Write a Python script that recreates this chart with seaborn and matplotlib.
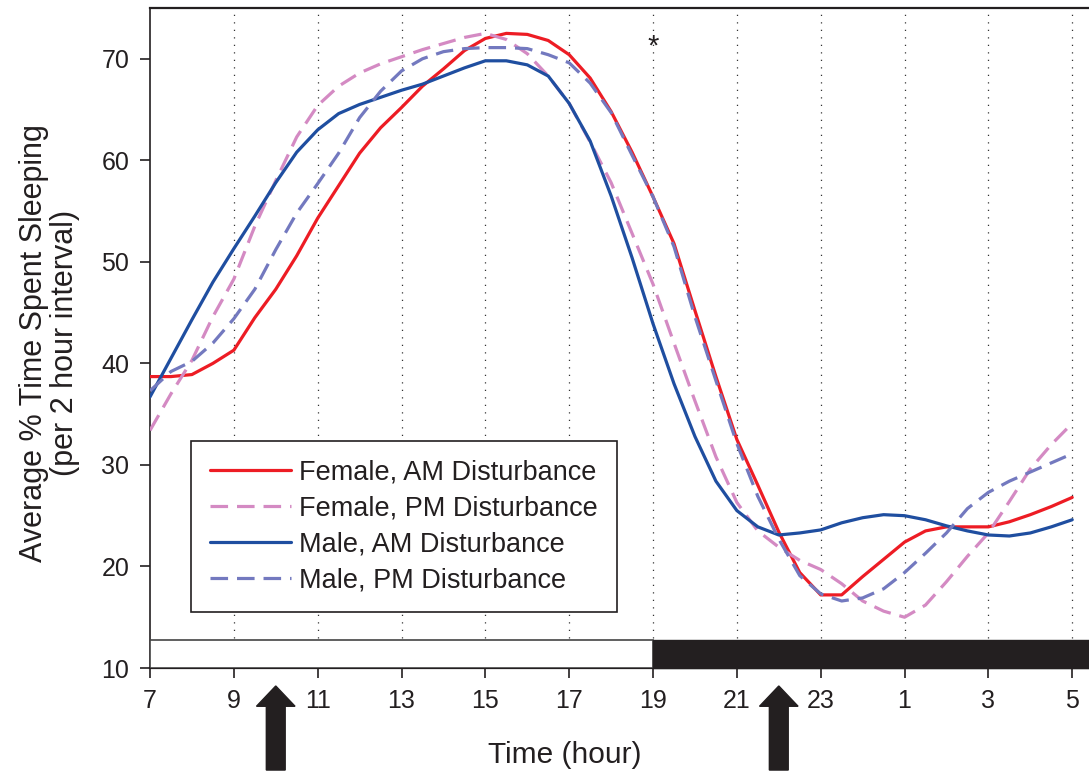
import numpy as np
import pandas as pd
import matplotlib
matplotlib.use("Agg")
import matplotlib.pyplot as plt
from matplotlib.patches import Rectangle, FancyArrow
import seaborn as sns

# ---- data (every half hour; 29 = 5 am next day) ----
hours = [7.0, 7.5, 8.0, 8.5, 9.0, 9.5, 10.0, 10.5, 11.0, 11.5, 12.0, 12.5, 13.0, 13.5,
         14.0, 14.5, 15.0, 15.5, 16.0, 16.5, 17.0, 17.5, 18.0, 18.5, 19.0, 19.5, 20.0,
         20.5, 21.0, 21.5, 22.0, 22.5, 23.0, 23.5, 24.0, 24.5, 25.0, 25.5, 26.0, 26.5,
         27.0, 27.5, 28.0, 28.5, 29.0]
female_am = [38.7, 38.7, 38.9, 40.0, 41.3, 44.5, 47.3, 50.6, 54.3, 57.5, 60.7, 63.2,
             65.2, 67.3, 69.0, 70.8, 72.0, 72.5, 72.4, 71.8, 70.4, 68.1, 64.8, 60.8,
             56.4, 51.8, 45.2, 38.7, 32.5, 28.0, 23.4, 19.4, 17.2, 17.2, 19.0, 20.7,
             22.4, 23.5, 23.9, 23.9, 23.9, 24.4, 25.1, 25.9, 26.8]
female_pm = [33.4, 37.0, 40.3, 44.6, 48.3, 53.5, 58.0, 62.3, 65.4, 67.3, 68.6, 69.5,
             70.2, 70.9, 71.5, 72.1, 72.5, 71.9, 70.5, 68.3, 65.6, 61.8, 57.8, 52.8,
             47.8, 42.0, 36.3, 30.8, 26.3, 23.5, 21.9, 20.6, 19.7, 18.3, 16.6, 15.6,
             15.0, 16.2, 18.5, 21.0, 23.3, 26.4, 29.6, 32.0, 34.1]
male_am = [36.7, 40.5, 44.3, 48.0, 51.3, 54.5, 57.8, 60.8, 63.0, 64.6, 65.5, 66.2,
           66.9, 67.5, 68.3, 69.1, 69.8, 69.8, 69.4, 68.3, 65.6, 61.9, 56.5, 50.4,
           43.9, 38.0, 32.8, 28.4, 25.5, 23.9, 23.1, 23.3, 23.6, 24.3, 24.8, 25.1,
           25.0, 24.6, 24.0, 23.5, 23.1, 23.0, 23.3, 23.9, 24.6]
male_pm = [37.3, 39.2, 40.2, 42.0, 44.4, 47.3, 51.2, 54.8, 57.7, 60.7, 64.2, 66.8,
           68.8, 70.0, 70.7, 71.0, 71.1, 71.1, 71.0, 70.4, 69.6, 67.6, 64.7, 60.5,
           56.4, 51.5, 44.6, 38.3, 32.1, 26.9, 22.7, 19.1, 17.3, 16.6, 16.9, 17.8,
           19.4, 21.3, 23.3, 25.7, 27.3, 28.4, 29.3, 30.2, 31.1]

series_names = ["Female, AM Disturbance", "Female, PM Disturbance",
                "Male, AM Disturbance", "Male, PM Disturbance"]
series_values = [female_am, female_pm, male_am, male_pm]

tick_positions = [7, 9, 11, 13, 15, 17, 19, 21, 23, 25, 27, 29]
tick_labels = ["7", "9", "11", "13", "15", "17", "19", "21", "23", "1", "3", "5"]
y_ticks = [10, 20, 30, 40, 50, 60, 70]

light_phase = (7, 19)
dark_phase = (19, 29.4)
disturbance_hours = [10, 22]
star_hour = 19

# ---- styling ----
colors = ["#ED1C24", "#D48AC3", "#1F4EA0", "#7379BF"]
styles = ["-", (0, (5.5, 2.8)), "-", (0, (5.5, 2.8))]

sns.set_theme(style="white")
plt.rcParams["font.family"] = ["Liberation Sans", "DejaVu Sans"]
text_color = "#231F20"
plt.rcParams["text.color"] = text_color
plt.rcParams["axes.labelcolor"] = text_color
plt.rcParams["xtick.color"] = text_color
plt.rcParams["ytick.color"] = text_color

df = pd.DataFrame({
    "hour": np.tile(hours, len(series_names)),
    "value": np.concatenate(series_values),
    "series": np.repeat(series_names, len(hours)),
})

fig = plt.figure(figsize=(10.89, 7.79), dpi=100)
ax = fig.add_axes([150 / 1089, 111 / 779, 939 / 1089, 660 / 779])

for name, col, ls in zip(series_names, colors, styles):
    sub = df[df["series"] == name]
    sns.lineplot(data=sub, x="hour", y="value", ax=ax, color=col, linestyle=ls,
                 linewidth=2.3, label=name, zorder=4, solid_joinstyle="round",
                 dash_joinstyle="round")

ax.set_xlim(7, 29.4)
ax.set_ylim(10, 75)

# vertical dotted grid
for t in tick_positions[1:]:
    ax.axvline(t, color="#333333", linestyle=(0, (1, 5)), linewidth=0.9, zorder=1)

# light / dark bar
bar_top = 12.75
ax.add_patch(Rectangle((light_phase[0], 10), light_phase[1] - light_phase[0], bar_top - 10,
                       facecolor="white", edgecolor="#444444", linewidth=1.2, zorder=3))
ax.add_patch(Rectangle((dark_phase[0], 10), dark_phase[1] - dark_phase[0], bar_top - 10,
                       facecolor="#231F20", edgecolor="#231F20", linewidth=1.0, zorder=3,
                       clip_on=False))

# disturbance arrows below the axis
for h in disturbance_hours:
    arr = FancyArrow(h, -0.05, 0, 8.28, width=0.45, head_width=0.92, head_length=2.0,
                     length_includes_head=True, color="#231F20", clip_on=False, zorder=5)
    ax.add_patch(arr)

# significance star
ax.text(star_hour, 70.4, "*", ha="center", va="baseline", fontsize=21, color=text_color)

ax.set_xticks(tick_positions)
ax.set_xticklabels(tick_labels)
ax.set_yticks(y_ticks)
ax.tick_params(axis="both", which="major", labelsize=18, direction="out",
               length=7, width=1.2, left=True, bottom=True)
ax.tick_params(axis="y", pad=8)
ax.tick_params(axis="x", pad=8)

ax.set_xlabel("Time (hour)", fontsize=21.5)
ax.xaxis.set_label_coords((565 - 150) / 939, (668 - 741) / 660)
ax.set_ylabel("Average % Time Spent Sleeping\n(per 2 hour interval)", fontsize=22,
              linespacing=1.05)
ax.yaxis.set_label_coords((80 - 150) / 939, (668 - 343) / 660)

for side in ["left", "top", "bottom"]:
    ax.spines[side].set_visible(True)
    ax.spines[side].set_color("#231F20")
ax.spines["left"].set_linewidth(1.2)
ax.spines["top"].set_linewidth(1.6)
ax.spines["bottom"].set_linewidth(1.6)
ax.spines["right"].set_visible(False)

leg = ax.legend(loc="lower left", bbox_to_anchor=((191 - 150) / 939, (668 - 612) / 660),
                borderaxespad=0, fontsize=19.5, handlelength=3.0, handletextpad=0.3,
                labelspacing=0.36, borderpad=0.7, frameon=True, fancybox=False,
                framealpha=1, edgecolor="#231F20")
leg.get_frame().set_linewidth(1.2)
leg.set_zorder(6)

fig.savefig("out.png", dpi=100)
